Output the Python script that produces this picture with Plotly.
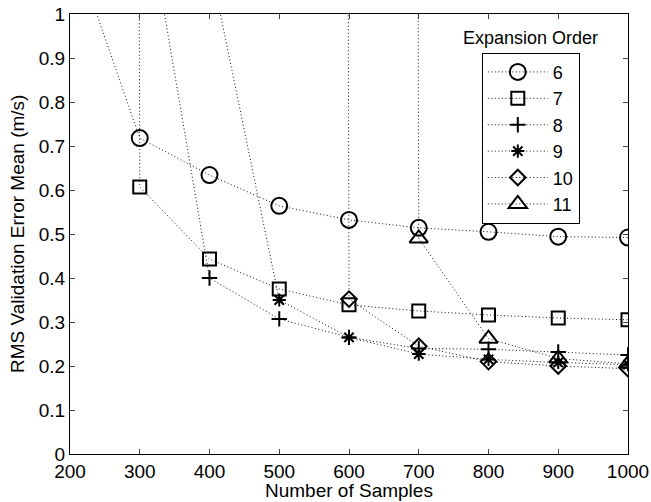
import plotly.graph_objects as go

samples = [200, 300, 400, 500, 600, 700, 800, 900, 1000]
order6 = [1.175, 0.718, 0.634, 0.564, 0.532, 0.514, 0.505, 0.494, 0.492]
order7 = [60.0, 0.607, 0.443, 0.375, 0.339, 0.325, 0.316, 0.309, 0.305]
order8 = [80.0, 1.33, 0.400, 0.307, 0.265, 0.240, 0.238, 0.232, 0.225]
order9 = [90.0, 70.0, 1.12, 0.350, 0.265, 0.227, 0.215, 0.208, 0.203]
order10 = [95.0, 85.0, 75.0, 65.0, 0.352, 0.245, 0.210, 0.200, 0.194]
order11 = [99.0, 90.0, 80.0, 70.0, 60.0, 0.490, 0.262, 0.217, 0.205]

series_names = ["6", "7", "8", "9", "10", "11"]
series_values = [order6, order7, order8, order9, order10, order11]
symbols = ["circle-open", "square-open", "cross-thin-open", "asterisk-open",
           "diamond-open", "triangle-up-open"]
sizes = [16, 13, 11, 11, 12, 16]

FONT = "Liberation Sans, Arial, Helvetica, sans-serif"

fig = go.Figure()
for name, vals, sym, sz in zip(series_names, series_values, symbols, sizes):
    fig.add_trace(go.Scatter(
        x=samples, y=vals, name=name, mode="lines+markers",
        legendgroup=name,
        line=dict(color="#111111", width=1, dash="1px,2.5px"),
        marker=dict(symbol=sym, size=sz, color="black",
                    line=dict(color="black", width=2)),
    ))

fig.update_layout(
    width=651, height=502,
    margin=dict(l=70, r=23, t=14, b=48),
    paper_bgcolor="white", plot_bgcolor="white",
    font=dict(family=FONT, size=19, color="black"),
    showlegend=True,
    legend=dict(
        x=0.738, y=0.912, xanchor="left", yanchor="top",
        bordercolor="black", borderwidth=1, bgcolor="white",
        font=dict(size=18), tracegroupgap=0, itemwidth=60,
    ),
    annotations=[
        dict(text="Expansion Order", x=0.825, y=0.945, xref="paper",
             yref="paper", showarrow=False, xanchor="center",
             yanchor="middle", font=dict(size=18)),
        dict(text="Number of Samples", x=0.5, y=-0.084, xref="paper",
             yref="paper", showarrow=False, xanchor="center",
             yanchor="middle", font=dict(size=19)),
        dict(text="RMS Validation Error Mean (m/s)", x=-0.095, y=0.5,
             xref="paper", yref="paper", showarrow=False, textangle=-90,
             xanchor="center", yanchor="middle", font=dict(size=19)),
    ],
)
fig.update_xaxes(
    range=[200, 1000], tickvals=samples, ticks="inside", ticklen=5,
    showline=True, linecolor="black", linewidth=1, mirror="allticks",
    showgrid=False, zeroline=False, tickfont=dict(size=19), automargin=False,
)
fig.update_yaxes(
    range=[0, 1], dtick=0.1, tickformat="~g", ticks="inside", ticklen=5,
    showline=True, linecolor="black", linewidth=1, mirror="allticks",
    showgrid=False, zeroline=False, tickfont=dict(size=19), automargin=False,
)
fig.write_html("out.html")
